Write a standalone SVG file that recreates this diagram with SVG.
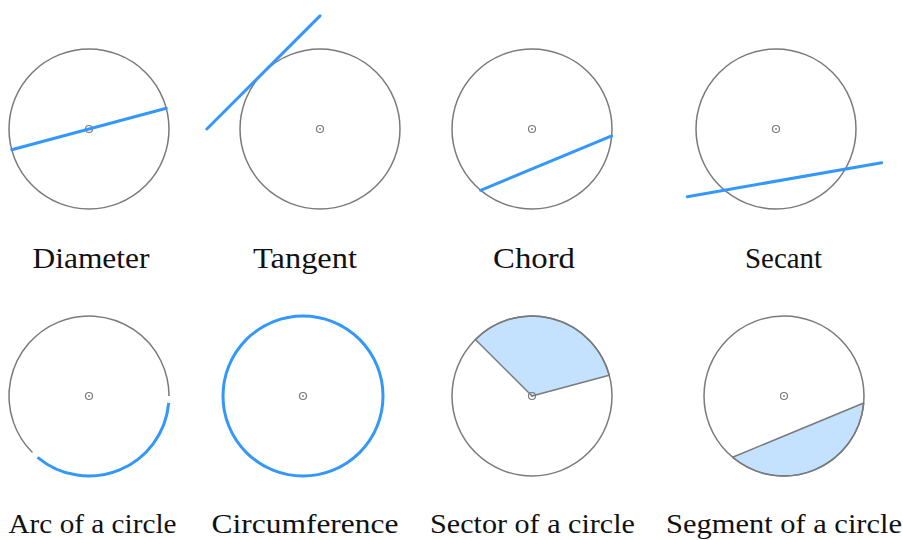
<svg xmlns="http://www.w3.org/2000/svg" width="903" height="540" viewBox="0 0 903 540">
<style>
.c{fill:none;stroke:#7a7a7a;stroke-width:1.5}
.g{fill:none;stroke:#7a7a7a;stroke-width:1.5}
.b{fill:none;stroke:#3497fb;stroke-width:3;stroke-linecap:round}
.f{fill:#c4e1fd;stroke:#7a7a7a;stroke-width:1.5;stroke-linejoin:round}
.m{fill:none;stroke:#7a7a7a;stroke-width:1.2}
.d{fill:#7a7a7a}
.t{font-family:"Liberation Serif","DejaVu Serif",serif;font-size:29px;fill:#111;text-anchor:middle}
.t2{font-family:"Liberation Serif","DejaVu Serif",serif;font-size:28px;fill:#111;text-anchor:middle}
</style>
<defs>
<g id="ctr"><circle class="m" r="3.5"/><circle class="d" r="0.9"/></g>
</defs>
<rect width="903" height="540" fill="#fff"/>

<g id="diameter">
<circle class="c" cx="89" cy="129" r="80"/>
<use href="#ctr" x="89" y="129"/>
<line class="b" x1="11.73" y1="149.71" x2="166.27" y2="108.29"/>
<text class="t" x="91" y="268" textLength="117" lengthAdjust="spacingAndGlyphs">Diameter</text>
</g>

<g id="tangent">
<circle class="c" cx="320" cy="129" r="80"/>
<use href="#ctr" x="320" y="129"/>
<line class="b" x1="206.86" y1="128.99" x2="320" y2="15.86"/>
<text class="t" x="305" y="268" textLength="104" lengthAdjust="spacingAndGlyphs">Tangent</text>
</g>

<g id="chord">
<circle class="c" cx="532" cy="129" r="80"/>
<use href="#ctr" x="532" y="129"/>
<line class="b" x1="480.58" y1="190.28" x2="611.70" y2="135.97"/>
<text class="t" x="534" y="268" textLength="82" lengthAdjust="spacingAndGlyphs">Chord</text>
</g>

<g id="secant">
<circle class="c" cx="776" cy="129" r="80"/>
<use href="#ctr" x="776" y="129"/>
<line class="b" x1="687.3" y1="196.7" x2="881.7" y2="162.7"/>
<text class="t" x="783.5" y="268" textLength="77" lengthAdjust="spacingAndGlyphs">Secant</text>
</g>

<g id="arc">
<path class="g" d="M32.43,452.57 A80,80 0 1 1 169,396"/>
<path class="b" style="stroke-linecap:butt" d="M168.70,402.97 A80,80 0 0 1 37.58,457.28"/>
<use href="#ctr" x="89" y="396"/>
<text class="t2" x="92.5" y="533" textLength="168" lengthAdjust="spacingAndGlyphs">Arc of a circle</text>
</g>

<g id="circumference">
<circle class="b" cx="303" cy="396" r="80"/>
<use href="#ctr" x="303" y="396"/>
<text class="t2" x="305" y="533" textLength="187" lengthAdjust="spacingAndGlyphs">Circumference</text>
</g>

<g id="sector">
<path class="f" d="M532,396 L475.43,339.43 A80,80 0 0 1 609.27,375.29 Z"/>
<circle class="c" cx="532" cy="396" r="80"/>
<use href="#ctr" x="532" y="396"/>
<text class="t2" x="532.5" y="533" textLength="205" lengthAdjust="spacingAndGlyphs">Sector of a circle</text>
</g>

<g id="segment">
<path class="f" d="M863.70,402.97 A80,80 0 0 1 732.58,457.28 Z"/>
<circle class="c" cx="784" cy="396" r="80"/>
<use href="#ctr" x="784" y="396"/>
<text class="t2" x="784" y="533" textLength="236" lengthAdjust="spacingAndGlyphs">Segment of a circle</text>
</g>
</svg>
